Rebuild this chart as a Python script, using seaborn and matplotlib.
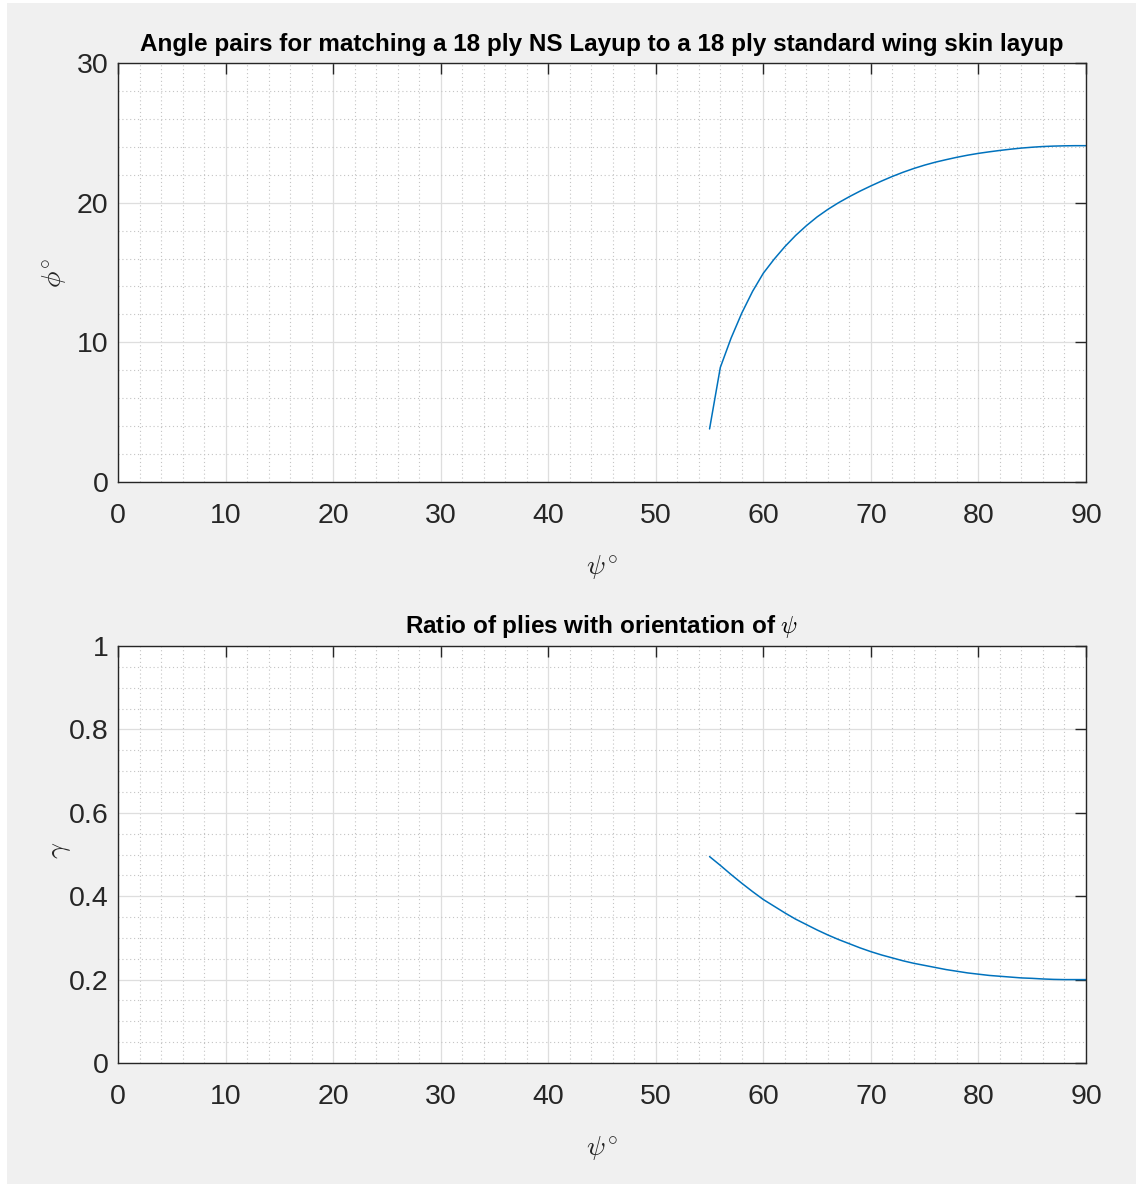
import matplotlib
matplotlib.use("Agg")
import matplotlib.pyplot as plt
from matplotlib.patches import Rectangle
from matplotlib.ticker import MultipleLocator
import numpy as np
import pandas as pd
import seaborn as sns

# Ply orientation psi (deg) for which a matching layup exists
psi = [55, 56, 57, 58, 59, 60, 61, 62, 63, 64, 65, 66, 67, 68, 69, 70, 71, 72,
       73, 74, 75, 76, 77, 78, 79, 80, 81, 82, 83, 84, 85, 86, 87, 88, 89, 90]

# Paired angle phi (deg)
phi = [3.8, 8.2, 10.3, 12.1, 13.65, 14.95, 15.95, 16.85, 17.65, 18.35, 18.98,
       19.52, 20.0, 20.43, 20.83, 21.2, 21.55, 21.88, 22.18, 22.45, 22.69,
       22.9, 23.08, 23.25, 23.4, 23.53, 23.64, 23.74, 23.83, 23.91, 23.97,
       24.02, 24.05, 24.07, 24.08, 24.08]

# Ratio of plies with orientation psi
gamma = [0.495, 0.474, 0.452, 0.431, 0.411, 0.392, 0.376, 0.36, 0.345, 0.332,
         0.319, 0.307, 0.296, 0.286, 0.276, 0.267, 0.259, 0.252, 0.245, 0.239,
         0.234, 0.229, 0.224, 0.220, 0.216, 0.213, 0.210, 0.208, 0.206, 0.204,
         0.203, 0.2015, 0.2005, 0.200, 0.200, 0.200]

x_ticks = [0, 10, 20, 30, 40, 50, 60, 70, 80, 90]
phi_ticks = [0, 10, 20, 30]
gamma_ticks = [0, 0.2, 0.4, 0.6, 0.8, 1.0]
gamma_ticklabels = ["0", "0.2", "0.4", "0.6", "0.8", "1"]

title_top = "Angle pairs for matching a 18 ply NS Layup to a 18 ply standard wing skin layup"
title_bottom = r"Ratio of plies with orientation of $\psi$"

df = pd.DataFrame({"psi": psi, "phi": phi, "gamma": gamma})

sns.set_style("white")
plt.rcParams["font.family"] = ["Liberation Sans", "DejaVu Sans"]
plt.rcParams["mathtext.fontset"] = "cm"

LINE = "#0072BD"
TXT = "#262626"

fig = plt.figure(figsize=(11.36, 11.84), dpi=100)
fig.patch.set_facecolor("white")
fig.add_artist(Rectangle((7 / 1136, 0), 1, 1 - 3 / 1184, transform=fig.transFigure,
                         facecolor="#f0f0f0", edgecolor="none", zorder=-10))

ax1 = fig.add_axes([118 / 1136, 1 - 482 / 1184, 968 / 1136, 419 / 1184])
ax2 = fig.add_axes([118 / 1136, 1 - 1063 / 1184, 968 / 1136, 417 / 1184])

sns.lineplot(data=df, x="psi", y="phi", ax=ax1, color=LINE, linewidth=1.1)
sns.lineplot(data=df, x="psi", y="gamma", ax=ax2, color=LINE, linewidth=1.1)


def style(ax, yticks, ylim, yminor, ylabels=None):
    ax.set_facecolor("white")
    ax.set_xlim(0, 90)
    ax.set_ylim(*ylim)
    ax.set_xticks(x_ticks)
    ax.set_xticklabels([str(t) for t in x_ticks])
    ax.set_yticks(yticks)
    if ylabels is not None:
        ax.set_yticklabels(ylabels)
    else:
        ax.set_yticklabels([str(t) for t in yticks])
    ax.xaxis.set_minor_locator(MultipleLocator(2))
    ax.yaxis.set_minor_locator(MultipleLocator(yminor))
    ax.grid(which="major", color="#dedede", linewidth=0.9, linestyle="-")
    ax.grid(which="minor", color="#c4c4c4", linewidth=0.8, linestyle=(0, (1, 2.5)))
    ax.set_axisbelow(True)
    for s in ax.spines.values():
        s.set_visible(True)
        s.set_color(TXT)
        s.set_linewidth(1.0)
    ax.tick_params(which="major", direction="in", length=8, width=1.0, color=TXT,
                   top=True, right=True, labelsize=20.5, labelcolor=TXT)
    ax.tick_params(which="minor", length=0)
    ax.tick_params(axis="x", which="major", pad=15)
    ax.tick_params(axis="y", which="major", pad=7)
    ax.set_xlabel(r"$\psi^{\circ}$", fontsize=20, color=TXT)
    ax.xaxis.set_label_coords(0.5, -0.205)
    ax.xaxis.label.set_verticalalignment("center")


style(ax1, phi_ticks, (0, 30), 2)
style(ax2, gamma_ticks, (0, 1), 0.05, gamma_ticklabels)

ax1.set_ylabel(r"$\phi^{\circ}$", fontsize=20, color=TXT)
ax1.yaxis.set_label_coords(-0.065, 0.5)
ax1.yaxis.label.set_verticalalignment("center")
ax2.set_ylabel(r"$\gamma$", fontsize=20, color=TXT)
ax2.yaxis.set_label_coords(-0.06, 0.51)
ax2.yaxis.label.set_verticalalignment("center")

ax1.set_title(title_top, fontsize=17.5, fontweight="bold", color="black", pad=9)
ax2.set_title(title_bottom, fontsize=17.5, fontweight="bold", color="black", pad=9)

fig.savefig("out.png", dpi=100, facecolor=fig.get_facecolor())
